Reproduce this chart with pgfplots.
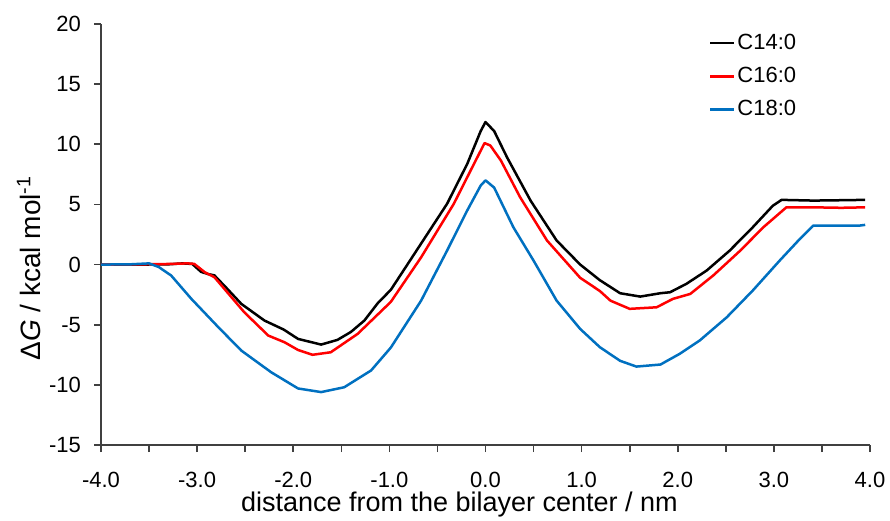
\documentclass[border=0pt]{standalone}
\usepackage{fontspec}
\setmainfont{Liberation Sans}
\usepackage{pgfplots}
\pgfplotsset{compat=1.18}
\definecolor{c14}{HTML}{000000}
\definecolor{c16}{HTML}{FF0000}
\definecolor{c18}{HTML}{0070C0}
\definecolor{axgray}{HTML}{404040}

\begin{document}
\begin{tikzpicture}
  \begin{axis}[
    scale only axis,
    width=384.5pt,
    height=210.5pt,
    xmin=-4, xmax=4,
    ymin=-15, ymax=20,
    axis lines*=left,
    axis line style={axgray, line width=0.8pt},
    xtick={-4,-3,...,4},
    minor xtick={-3.5,-2.5,...,3.5},
    ytick={-15,-10,...,20},
    tick align=outside,
    major tick length=3.5pt,
    minor tick length=3.5pt,
    tick style={axgray, line width=0.8pt},
    xticklabel style={/pgf/number format/fixed, /pgf/number format/fixed zerofill,
      /pgf/number format/precision=1, yshift=-6.5pt},
    yticklabel style={xshift=-3pt},
    /pgf/number format/assume math mode=true,
    tick label style={font=\fontsize{11}{13}\selectfont},
    xlabel={distance from the bilayer center / nm},
    xlabel style={font=\fontsize{13.5}{16}\selectfont, at={(axis description cs:0.466,-0.159)}, anchor=base},
    ylabel={Δ\textit{G} / kcal mol\textsuperscript{-1}},
    ylabel style={font=\fontsize{14}{16}\selectfont, at={(axis description cs:-0.0936,0.42)}, anchor=center},
    legend style={draw=none, fill=none, at={(0.79,0.985)}, anchor=north west,
      inner sep=0pt, font=\fontsize{11}{13}\selectfont, row sep=4.5pt,
      nodes={inner xsep=1pt, inner ysep=1.5pt},
      legend cell align=left},
    legend image code/.code={\draw[#1] (0cm,0cm) -- (12pt,0cm);},
    every axis plot/.append style={line width=1.25pt, line join=round},
    clip=false
  ]
    \coordinate (ll) at (rel axis cs:0,0);
    \coordinate (ur) at (rel axis cs:1,1);
    \addplot[c14] coordinates {
      (-4,0) (-3.6,0) (-3.3,0.02) (-3.15,0.1) (-3.05,0.05) (-2.96,-0.6)
      (-2.89,-0.78) (-2.82,-0.9) (-2.7,-1.9) (-2.54,-3.27) (-2.3,-4.65)
      (-2.1,-5.4) (-1.95,-6.18) (-1.71,-6.65) (-1.54,-6.26) (-1.4,-5.6)
      (-1.26,-4.65) (-1.12,-3.2) (-0.985,-2.1) (-0.74,0.89) (-0.4,5.05)
      (-0.19,8.37) (-0.05,11.1) (0.0,11.85) (0.09,11.1) (0.225,8.9)
      (0.47,5.3) (0.74,2.0) (0.985,0.0) (1.19,-1.3) (1.4,-2.38)
      (1.61,-2.66) (1.82,-2.38) (1.92,-2.3) (2.09,-1.6) (2.3,-0.5)
      (2.54,1.16) (2.78,3.1) (2.99,4.9) (3.08,5.38) (3.41,5.32)
      (3.7,5.35) (3.95,5.38)
    };
    \addlegendentry{C14:0}
    \addplot[c16] coordinates {
      (-4,0) (-3.6,0.02) (-3.3,0.05) (-3.1,0.1) (-3.03,0.06) (-2.92,-0.64)
      (-2.82,-1.05) (-2.51,-3.96) (-2.26,-5.9) (-2.09,-6.46) (-1.95,-7.1)
      (-1.8,-7.5) (-1.61,-7.29) (-1.33,-5.76) (-0.985,-3.1) (-0.67,0.6)
      (-0.33,5.05) (-0.12,8.37) (-0.01,10.1) (0.05,9.9) (0.16,8.65)
      (0.36,5.6) (0.64,2.0) (0.985,-1.1) (1.19,-2.2) (1.3,-3.0)
      (1.5,-3.68) (1.78,-3.55) (1.95,-2.85) (2.13,-2.44) (2.37,-0.9)
      (2.65,1.16) (2.89,3.1) (3.13,4.76) (3.41,4.76) (3.7,4.72) (3.95,4.76)
    };
    \addlegendentry{C16:0}
    \addplot[c18] coordinates {
      (-4,0) (-3.7,0.02) (-3.5,0.1) (-3.4,-0.2) (-3.27,-0.91) (-3.06,-2.85)
      (-2.78,-5.2) (-2.54,-7.15) (-2.23,-8.95) (-1.95,-10.3) (-1.71,-10.6)
      (-1.47,-10.2) (-1.19,-8.8) (-0.985,-6.9) (-0.67,-3.0) (-0.4,1.16)
      (-0.19,4.5) (-0.05,6.57) (0,7.0) (0.09,6.4) (0.29,3.1) (0.5,0.33)
      (0.74,-3.0) (0.985,-5.35) (1.19,-6.87) (1.4,-8.0) (1.57,-8.48)
      (1.82,-8.31) (2.02,-7.42) (2.23,-6.3) (2.51,-4.38) (2.78,-2.16)
      (3.06,0.33) (3.27,2.13) (3.41,3.24) (3.68,3.24) (3.89,3.24) (3.95,3.3)
    };
    \addlegendentry{C18:0}
  \end{axis}
  \pgfresetboundingbox
  \path[use as bounding box] ([shift={(-50.5pt,-37.5pt)}]ll) rectangle ([shift={(10pt,12pt)}]ur);
\end{tikzpicture}
\end{document}
